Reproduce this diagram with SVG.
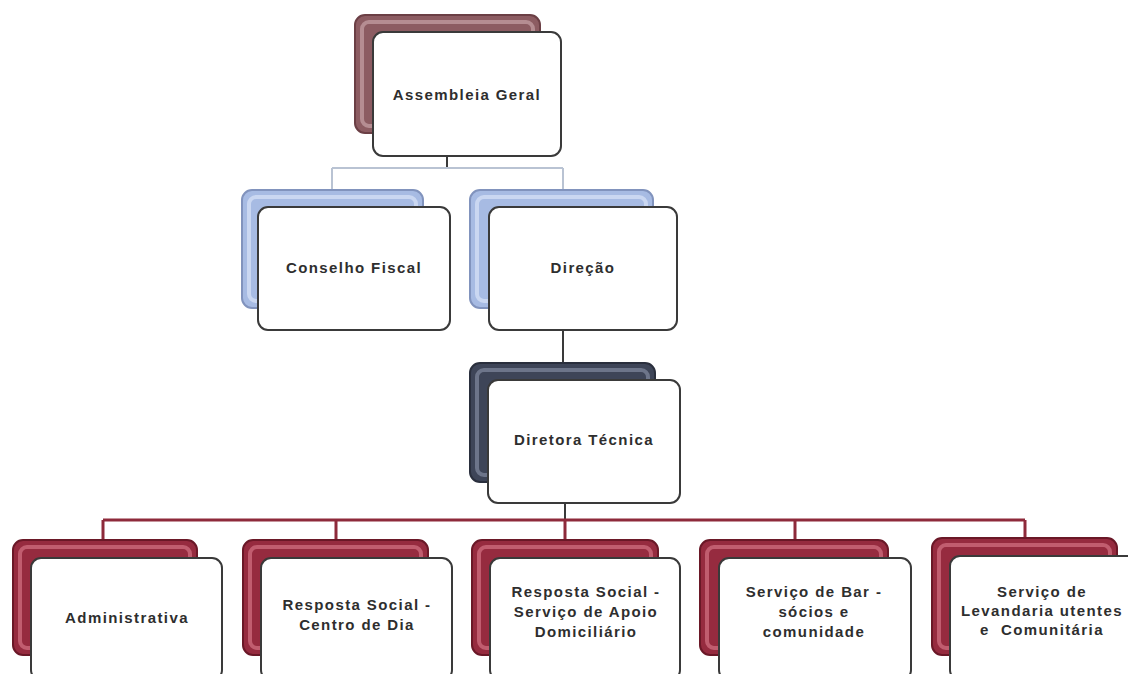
<svg xmlns="http://www.w3.org/2000/svg" width="1128" height="674" viewBox="0 0 1128 674">
<defs>
<style>
.front{fill:#ffffff;stroke:#3a3a3a;stroke-width:2}
.hl{fill:none;stroke-width:4;stroke-opacity:0.75}
.red{fill:#962b3f;stroke:#6a1827;stroke-width:2}
.red-hl{stroke:#cf6f80}
.blue{fill:#a7bbe3;stroke:#8193bd;stroke-width:2}
.blue-hl{stroke:#d5e0f6}
.mauve{fill:#8c5c62;stroke:#6b3f45;stroke-width:2}
.mauve-hl{stroke:#c39ea3}
.slate{fill:#3e4558;stroke:#2a2f3d;stroke-width:2}
.slate-hl{stroke:#7d859b}
.lbl{font-family:"Liberation Sans",Arial,sans-serif;font-size:15px;font-weight:bold;fill:#2e2e2e;text-anchor:middle;letter-spacing:1.4px;white-space:pre}
.c-dark{stroke:#3a3a3a;stroke-width:2;fill:none}
.c-pale{stroke:#b9c3d3;stroke-width:2;fill:none}
.c-red{stroke:#8e2a3b;stroke-width:3;fill:none}
</style>
</defs>
<rect width="1128" height="674" fill="#ffffff"/>

<g id="connectors">
<path class="c-dark" d="M447 156 V168"/>
<path class="c-pale" d="M332 168 H563 M332 168 V191 M563 168 V191"/>
<path class="c-dark" d="M563 330 V364"/>
<path class="c-dark" d="M565 503 V521"/>
<path class="c-red" d="M103 520 H1025 M103 520 V541 M336 520 V541 M565 520 V541 M795 520 V541 M1025 520 V541"/>
</g>

<g id="assembleia-geral">
<rect class="mauve" x="355" y="15" width="185" height="118" rx="10"/>
<rect class="hl mauve-hl" x="362" y="22" width="171" height="104" rx="7"/>
<rect class="front" x="373" y="32" width="188" height="124" rx="10"/>
<text class="lbl" x="467" y="100">Assembleia Geral</text>
</g>

<g id="conselho-fiscal">
<rect class="blue" x="242" y="190" width="181" height="118" rx="10"/>
<rect class="hl blue-hl" x="249" y="197" width="167" height="104" rx="7"/>
<rect class="front" x="258" y="207" width="192" height="123" rx="10"/>
<text class="lbl" x="354" y="273">Conselho Fiscal</text>
</g>

<g id="direcao">
<rect class="blue" x="470" y="190" width="183" height="118" rx="10"/>
<rect class="hl blue-hl" x="477" y="197" width="169" height="104" rx="7"/>
<rect class="front" x="489" y="207" width="188" height="123" rx="10"/>
<text class="lbl" x="583" y="273">Direção</text>
</g>

<g id="diretora-tecnica">
<rect class="slate" x="470" y="363" width="185" height="119" rx="10"/>
<rect class="hl slate-hl" x="477" y="370" width="171" height="105" rx="7"/>
<rect class="front" x="488" y="380" width="192" height="123" rx="10"/>
<text class="lbl" x="584" y="445">Diretora Técnica</text>
</g>

<g id="administrativa">
<rect class="red" x="13" y="540" width="184" height="115" rx="10"/>
<rect class="hl red-hl" x="20" y="547" width="170" height="101" rx="7"/>
<rect class="front" x="31" y="558" width="191" height="122" rx="10"/>
<text class="lbl" x="127" y="623">Administrativa</text>
</g>

<g id="centro-de-dia">
<rect class="red" x="243" y="540" width="185" height="115" rx="10"/>
<rect class="hl red-hl" x="250" y="547" width="171" height="101" rx="7"/>
<rect class="front" x="261" y="558" width="191" height="122" rx="10"/>
<text class="lbl" x="357" y="610">Resposta Social -</text>
<text class="lbl" x="357" y="630">Centro de Dia</text>
</g>

<g id="apoio-domiciliario">
<rect class="red" x="472" y="540" width="186" height="115" rx="10"/>
<rect class="hl red-hl" x="479" y="547" width="172" height="101" rx="7"/>
<rect class="front" x="490" y="558" width="190" height="122" rx="10"/>
<text class="lbl" x="586" y="597">Resposta Social -</text>
<text class="lbl" x="586" y="617">Serviço de Apoio</text>
<text class="lbl" x="586" y="637">Domiciliário</text>
</g>

<g id="servico-bar">
<rect class="red" x="700" y="540" width="188" height="115" rx="10"/>
<rect class="hl red-hl" x="707" y="547" width="174" height="101" rx="7"/>
<rect class="front" x="719" y="558" width="192" height="122" rx="10"/>
<text class="lbl" x="814" y="597">Serviço de Bar -</text>
<text class="lbl" x="814" y="617">sócios e</text>
<text class="lbl" x="814" y="637">comunidade</text>
</g>

<g id="servico-lavandaria">
<rect class="red" x="932" y="538" width="185" height="117" rx="10"/>
<rect class="hl red-hl" x="939" y="545" width="171" height="103" rx="7"/>
<rect class="front" x="950" y="556" width="192" height="124" rx="10"/>
<text class="lbl" x="1042" y="597">Serviço de</text>
<text class="lbl" x="1042" y="616">Levandaria utentes</text>
<text class="lbl" x="1042" y="635">e  Comunitária</text>
</g>
</svg>
